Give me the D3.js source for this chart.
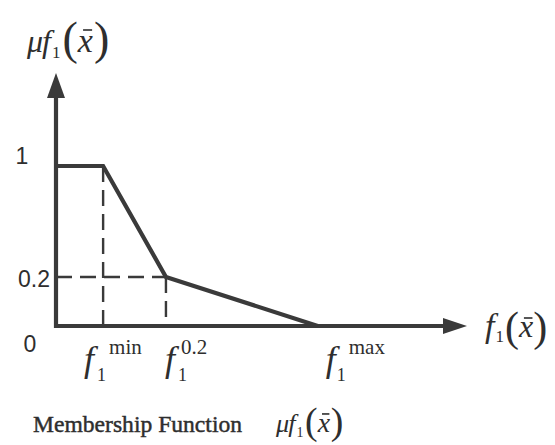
<!DOCTYPE html>
<html>
<head>
<meta charset="utf-8">
<script src="https://cdn.jsdelivr.net/npm/d3@7"></script>
<style>
  html, body { margin: 0; padding: 0; background: #fff; }
  svg { display: block; }
</style>
</head>
<body>
<svg id="chart" width="555" height="445"></svg>
<script>
// Membership function of objective f1: full membership up to f1^min,
// 0.2 at f1^0.2, dropping to zero at f1^max.
const levelValues = [0, 0.2, 1];
const levelLabels = ["0", "0.2", "1"];
const breakNames  = ["min", "0.2", "max"];
const breakValues = [0.9, 2.1, 5.0];          // f1 at each breakpoint
const curveF  = [0, 0.9, 2.1, 5.0];
const curveMu = [1, 1, 0.2, 0];
const fAxisEnd = 7.85;                        // extent of the f1 axis
const muAxisEnd = 1.67;                       // extent of the membership axis

const SERIF = "'Liberation Serif','Times New Roman',serif";
const SANS  = "'Liberation Sans',Arial,sans-serif";
const INK = "#3a3a3a";
const TEXT = "#2e2e2e";

const svg = d3.select("#chart");

const x = d3.scaleLinear().domain([0, fAxisEnd]).range([56, 467]);
// schematic (piecewise) membership scale
const y = d3.scaleLinear().domain(levelValues).range([326, 277, 166]);

const g = svg.append("g");

// dashed guides
const dash = g.append("g")
  .attr("stroke", INK).attr("stroke-width", 2.4)
  .attr("stroke-dasharray", "16,8").attr("fill", "none");
dash.append("line")
  .attr("x1", x(breakValues[0])).attr("x2", x(breakValues[0]))
  .attr("y1", y(1)).attr("y2", y(0));
dash.append("line")
  .attr("x1", x(breakValues[1])).attr("x2", x(breakValues[1]))
  .attr("y1", y(0.2)).attr("y2", y(0));
dash.append("line")
  .attr("x1", x(0)).attr("x2", x(breakValues[1]))
  .attr("y1", y(0.2)).attr("y2", y(0.2));

// axes with arrowheads
const axes = g.append("g").attr("stroke", INK).attr("stroke-width", 4.2);
axes.append("line")
  .attr("x1", x(0)).attr("x2", x(fAxisEnd) - 20)
  .attr("y1", y(0)).attr("y2", y(0));
axes.append("line")
  .attr("x1", x(0)).attr("x2", x(0))
  .attr("y1", y(0) + 2).attr("y2", y(muAxisEnd) + 20);
g.append("path")
  .attr("fill", INK)
  .attr("d", `M${x(fAxisEnd)},${y(0)} L${x(fAxisEnd) - 24},${y(0) - 8} L${x(fAxisEnd) - 24},${y(0) + 8} Z`);
g.append("path")
  .attr("fill", INK)
  .attr("d", `M${x(0)},${y(muAxisEnd)} L${x(0) - 9},${y(muAxisEnd) + 25} L${x(0) + 9},${y(muAxisEnd) + 25} Z`);

// membership curve
const line = d3.line().x((d, i) => x(curveF[i])).y((d, i) => y(curveMu[i]));
g.append("path")
  .datum(curveF)
  .attr("d", line)
  .attr("fill", "none")
  .attr("stroke", INK)
  .attr("stroke-width", 4.2)
  .attr("stroke-linejoin", "miter");

// level labels on the membership axis
const levelPos = [
  { x: 30, y: 352, anchor: "middle" },
  { x: 50, y: 287, anchor: "end" },
  { x: 22, y: 164, anchor: "middle" }
];
g.selectAll("text.level")
  .data(levelLabels)
  .join("text")
  .attr("class", "level")
  .attr("x", (d, i) => levelPos[i].x)
  .attr("y", (d, i) => levelPos[i].y)
  .attr("text-anchor", (d, i) => levelPos[i].anchor)
  .attr("font-family", SANS)
  .attr("font-size", 23)
  .attr("fill", TEXT)
  .text(d => d);

// helper: write a run of text pieces left to right
function mathRun(parent, x0, base, pieces) {
  let cx = x0;
  pieces.forEach(p => {
    const px = p.at !== undefined ? x0 + p.at : cx + (p.dx || 0);
    const t = parent.append("text")
      .attr("x", px)
      .attr("y", base + (p.dy || 0))
      .attr("font-family", p.family || SERIF)
      .attr("font-size", p.size)
      .attr("font-style", p.italic ? "italic" : "normal")
      .attr("fill", TEXT)
      .text(p.t);
    const w = t.node().getComputedTextLength();
    if (p.bar) {
      parent.append("line")
        .attr("x1", px + w * 0.35).attr("x2", px + w * 0.95)
        .attr("y1", base + p.bar).attr("y2", base + p.bar)
        .attr("stroke", TEXT).attr("stroke-width", 1.6);
    }
    cx = px + w + (p.kern || 0);
  });
}

// breakpoint labels f1^min, f1^0.2, f1^max
const breakLayout = [
  { fx: -19, sub: -6, sup: 6 },
  { fx: -1, sub: 12, sup: 15 },
  { fx: 8, sub: 19, sup: 31 }
];
breakNames.forEach((name, i) => {
  const bx = x(breakValues[i]);
  const L = breakLayout[i];
  mathRun(g, bx, 371, [
    { t: "f", italic: true, size: 36, at: L.fx },
    { t: "1", size: 18, at: L.sub, dy: 10 },
    { t: name, size: 21, at: L.sup, dy: -17 }
  ]);
});

// axis titles
function muF(x0, base, s) {
  mathRun(g, x0, base, [
    { t: "\u03bc", italic: true, size: 32 * s },
    { t: "f", italic: true, size: 32 * s, dx: -1 * s },
    { t: "1", size: 17 * s, dy: 6 * s, dx: 1 * s },
    { t: "(", size: 46 * s, dx: 2 * s, dy: 2 * s },
    { t: "x", italic: true, size: 34 * s, dx: 0, bar: -22 * s },
    { t: ")", size: 46 * s, dx: 1 * s, dy: 2 * s }
  ]);
}
muF(27, 52, 1);

mathRun(g, 485, 337, [
  { t: "f", italic: true, size: 34 },
  { t: "1", size: 17, dy: 5, dx: 1 },
  { t: "(", size: 42, dx: 1, dy: 4 },
  { t: "x", italic: true, size: 32, bar: -19 },
  { t: ")", size: 42, dx: 0, dy: 4 }
]);

// caption
g.append("text")
  .attr("x", 33).attr("y", 432)
  .attr("font-family", SERIF)
  .attr("font-size", 23.6)
  .attr("fill", TEXT)
  .attr("stroke", TEXT).attr("stroke-width", 0.45)
  .text("Membership Function");
muF(276, 432, 0.82);
</script>
</body>
</html>
